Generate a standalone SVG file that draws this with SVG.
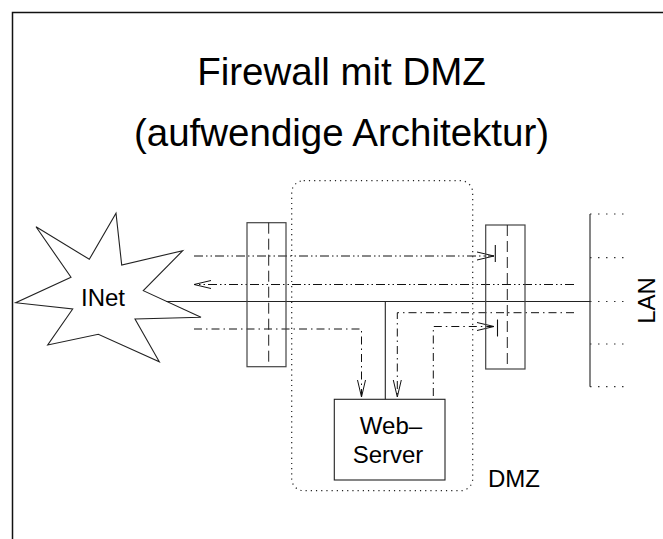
<svg xmlns="http://www.w3.org/2000/svg" width="663" height="539" viewBox="0 0 663 539">
  <style>
    text { font-family: "Liberation Sans", Arial, Helvetica, sans-serif; fill: #000; }
    .title { font-size: 38.5px; text-anchor: middle; }
    .label { font-size: 24px; }
    .mid { text-anchor: middle; }
    .frame { fill: none; stroke: #111; stroke-width: 1.5; }
    .solid { fill: none; stroke: #222; stroke-width: 1.1; }
    .wall { fill: none; stroke: #444; stroke-width: 1.2; }
    .dashed { fill: none; stroke: #222; stroke-width: 1; stroke-dasharray: 11 5; }
    .dotted { fill: none; stroke: #222; stroke-width: 1.2; stroke-dasharray: 1.2 4; }
    .stub { fill: none; stroke: #333; stroke-width: 1.2; stroke-dasharray: 1.5 6.5; }
    .dd { fill: none; stroke: #111; stroke-width: 1; stroke-dasharray: 9 3 1.5 3 1.5 3; }
    .dot1 { fill: none; stroke: #111; stroke-width: 1; stroke-dasharray: 8 4 1.5 4; }
    .bar { fill: none; stroke: #111; stroke-width: 1.1; }
  </style>
  <defs>
    <marker id="open" viewBox="-18 -5 19 10" refX="0" refY="0" markerWidth="19" markerHeight="10" markerUnits="userSpaceOnUse" orient="auto" overflow="visible">
      <path d="M-17,-4 L0,0 L-17,4" fill="none" stroke="#111" stroke-width="1"/>
    </marker>
  </defs>

  <!-- page frame (top and left edges) -->
  <path class="frame" d="M12.5,539 V12.5 H663"/>

  <!-- title -->
  <text class="title" x="341.5" y="85">Firewall mit DMZ</text>
  <text class="title" x="341.5" y="146">(aufwendige Architektur)</text>

  <!-- DMZ zone -->
  <g id="dmz">
    <rect class="dotted" x="291.7" y="180.7" width="181" height="310" rx="12" ry="12"/>
    <text class="label" x="488" y="487">DMZ</text>
  </g>

  <!-- Internet cloud -->
  <g id="inet">
    <polygon class="solid" points="36,226.7 89.3,259.3 116,213.3 121.7,265 182.7,250.7 143.3,290.7 201,317.3 135,319 159.3,361.7 98.3,334.3 47.7,345 72.7,309 15.7,302.7 71,277.3" fill="#fff"/>
    <text class="label mid" x="103" y="306">INet</text>
  </g>

  <!-- connectors -->
  <g id="connectors">
    <!-- backbone -->
    <path class="solid" d="M166,301.5 H590"/>
    <path class="solid" d="M385.3,301.5 V399.3"/>
    <!-- traffic flows -->
    <path class="dd" d="M194,256 H494" marker-end="url(#open)"/>
    <path class="dd" d="M574,284.5 H194" marker-end="url(#open)"/>
    <path class="dot1" d="M194,329 H361.5 V397" marker-end="url(#open)"/>
    <path class="dot1" d="M574,312.7 H397.3 V397" marker-end="url(#open)"/>
    <path class="dot1" d="M433.3,396 V326.5 H494" marker-end="url(#open)"/>
    <!-- blocking bars at the inner firewall -->
    <path class="bar" d="M495.3,245 V262"/>
    <path class="bar" d="M497.5,319.5 V336.5"/>
  </g>

  <!-- outer firewall -->
  <g id="firewall-outer">
    <rect class="wall" x="247" y="222.7" width="39" height="144"/>
    <path class="dashed" d="M268.7,222.7 V366.7"/>
  </g>

  <!-- inner firewall -->
  <g id="firewall-inner">
    <rect class="wall" x="485.7" y="225" width="39.3" height="144"/>
    <path class="dashed" d="M507.3,225 V369"/>
  </g>

  <!-- web server -->
  <g id="webserver">
    <rect class="solid" x="334.3" y="399.3" width="110.7" height="80.7" fill="#fff"/>
    <text class="label mid" x="391" y="434">Web–</text>
    <text class="label mid" x="388" y="463">Server</text>
  </g>

  <!-- LAN bus -->
  <g id="lan">
    <path class="solid" d="M590,214 V386.7"/>
    <path class="stub" d="M590,214 H630 M590,257.7 H630 M590,301.5 H630 M590,344 H630 M590,386.7 H630"/>
    <text class="label mid" transform="translate(655,300.5) rotate(-90)">LAN</text>
  </g>
</svg>
